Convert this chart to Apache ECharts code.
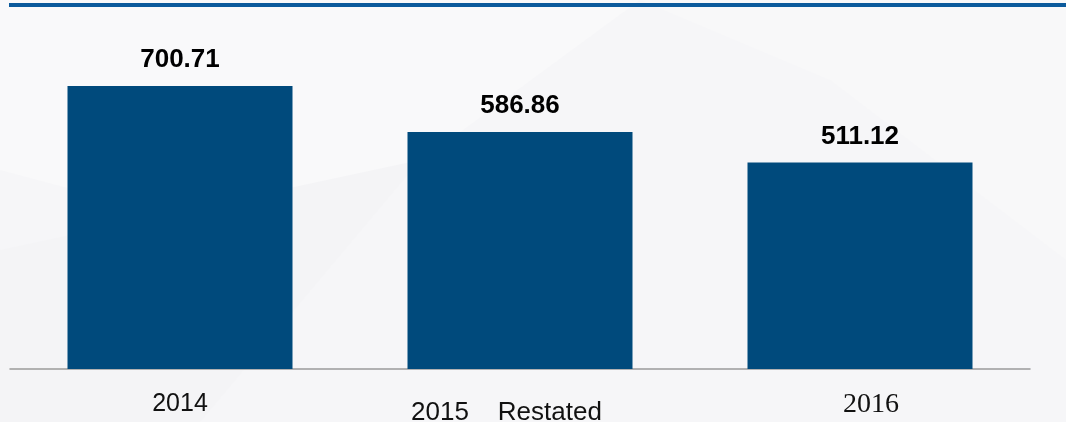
<!DOCTYPE html>
<html>
<head>
<meta charset="utf-8">
<script src="https://cdn.jsdelivr.net/npm/echarts@6/dist/echarts.min.js"></script>
<style>
  html, body { margin: 0; padding: 0; background: #f6f6f8; }
  #main { width: 1066px; height: 422px; }
</style>
</head>
<body>
<div id="main"></div>
<script>
var categories = ['2014', '2015    Restated', '2016'];
var values = [700.71, 586.86, 511.12];

var myChart = echarts.init(document.getElementById('main'));

myChart.setOption({
    backgroundColor: '#f6f6f8',
    animation: false,
    graphic: [
        // faint background shapes
        { type: 'polygon', silent: true, z: -10,
          shape: { points: [[0, 0], [640, 0], [300, 250], [0, 170]] },
          style: { fill: '#f9f9fa' } },
        { type: 'polygon', silent: true, z: -10,
          shape: { points: [[640, 0], [1066, 0], [1066, 260], [830, 80]] },
          style: { fill: '#f8f8f9' } },
        { type: 'polygon', silent: true, z: -10,
          shape: { points: [[0, 250], [420, 160], [200, 422], [0, 422]] },
          style: { fill: '#f4f4f6' } },
        // blue rule at the top
        { type: 'rect', silent: true, z: 10,
          shape: { x: 9, y: 3, width: 1057, height: 4 },
          style: { fill: '#0b5a9c' } }
    ],
    grid: {
        left: 10,
        right: 36,
        top: 5.5,
        bottom: 53,
        containLabel: false,
        outerBoundsMode: 'none'
    },
    xAxis: {
        type: 'category',
        data: [
            { value: categories[0] },
            { value: categories[1], textStyle: { fontSize: 26, padding: [8, 27, 0, 0] } },
            { value: categories[2], textStyle: { fontFamily: 'Liberation Serif', fontSize: 28, padding: [-1, 0, 0, 22] } }
        ],
        axisLine: { show: true, lineStyle: { color: '#9a9a9a', width: 1.5 } },
        axisTick: { show: false },
        axisLabel: {
            interval: 0,
            margin: 23,
            fontFamily: 'Liberation Sans',
            fontSize: 25,
            color: '#111'
        }
    },
    yAxis: {
        type: 'value',
        min: 0,
        max: 900,
        show: false,
        splitLine: { show: false }
    },
    series: [{
        type: 'bar',
        data: values,
        barWidth: 225,
        itemStyle: { color: '#004a7c' },
        label: {
            show: true,
            position: 'top',
            distance: 13,
            fontFamily: 'Liberation Sans',
            fontWeight: 'bold',
            fontSize: 26,
            color: '#000',
            formatter: function (p) { return p.value.toFixed(2); }
        }
    }]
});
</script>
</body>
</html>
